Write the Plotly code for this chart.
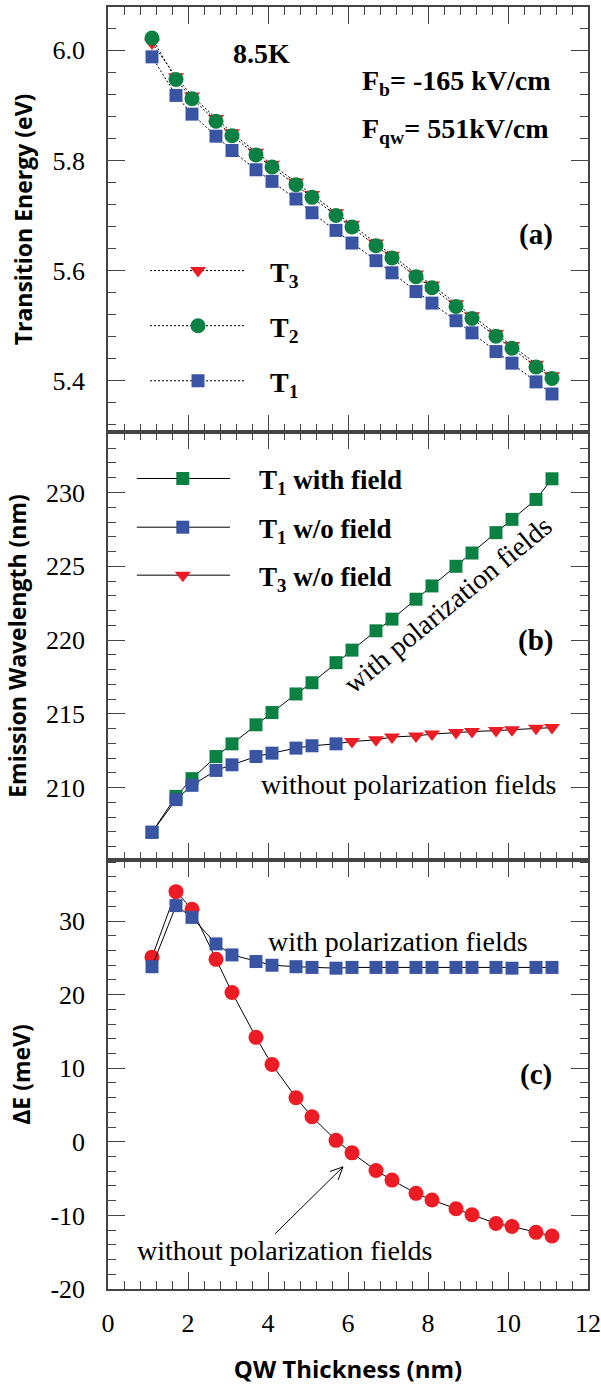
import plotly.graph_objects as go

# ---------------- data ----------------
x_qw = [1.1, 1.7, 2.1, 2.7, 3.1, 3.7, 4.1, 4.7, 5.1, 5.7, 6.1,
        6.7, 7.1, 7.7, 8.1, 8.7, 9.1, 9.7, 10.1, 10.7, 11.1]

# (a) transition energies (eV)
a_T1 = [5.988, 5.918, 5.884, 5.844, 5.818, 5.783, 5.762, 5.730, 5.705, 5.673, 5.650,
        5.618, 5.596, 5.562, 5.541, 5.509, 5.487, 5.453, 5.432, 5.398, 5.376]
a_T2 = [6.022, 5.947, 5.912, 5.871, 5.845, 5.810, 5.788, 5.756, 5.733, 5.700, 5.679,
        5.645, 5.623, 5.589, 5.569, 5.535, 5.513, 5.481, 5.459, 5.425, 5.404]
a_T3 = [6.013, 5.952, 5.917, 5.876, 5.850, 5.815, 5.793, 5.761, 5.738, 5.705, 5.684,
        5.650, 5.628, 5.594, 5.574, 5.540, 5.518, 5.486, 5.464, 5.430, 5.409]

# (b) emission wavelength (nm)
b_T1_field = [206.98, 209.41, 210.61, 212.11, 212.97, 214.26, 215.09, 216.35, 217.11, 218.47, 219.32,
              220.63, 221.42, 222.77, 223.67, 225.00, 225.90, 227.28, 228.18, 229.53, 230.93]
b_x_T1_wo = [1.1, 1.7, 2.1, 2.7, 3.1, 3.7, 4.1, 4.7, 5.1, 5.7]
b_T1_wo = [206.98, 209.19, 210.16, 211.17, 211.55, 212.11, 212.34, 212.68, 212.84, 212.97]
b_x_T3_wo = [6.1, 6.7, 7.1, 7.7, 8.1, 8.7, 9.1, 9.7, 10.1, 10.7, 11.1]
b_T3_wo = [213.13, 213.24, 213.43, 213.51, 213.63, 213.74, 213.80, 213.87, 213.92, 214.03, 214.07]

# (c) Delta E (meV)
c_with = [23.8, 32.1, 30.5, 26.9, 25.4, 24.5, 24.0, 23.8, 23.7, 23.6, 23.7,
          23.7, 23.7, 23.7, 23.7, 23.7, 23.7, 23.7, 23.6, 23.7, 23.7]
c_without = [25.1, 34.0, 31.6, 24.8, 20.3, 14.2, 10.5, 6.0, 3.4, 0.2, -1.5,
             -3.9, -5.2, -7.0, -7.9, -9.1, -9.9, -11.1, -11.5, -12.3, -12.8]

x_ticks = [0, 2, 4, 6, 8, 10, 12]
a_tickvals = [5.4, 5.6, 5.8, 6.0]
a_ticktext = ["5.4", "5.6", "5.8", "6.0"]
b_tickvals = [210, 215, 220, 225, 230]
b_ticktext = ["210", "215", "220", "225", "230"]
c_tickvals = [-20, -10, 0, 10, 20, 30]
c_ticktext = ["-20", "-10", "0", "10", "20", "30"]

BLUE = "#3A54A4"
GREEN = "#0B8043"
RED = "#ED1C24"
FRAME = "#444444"
SERIF = "Liberation Serif"
SANS = "Open Sans"

# ---------------- layout geometry ----------------
W, H = 601, 1385
L, R, T, B = 108, 13, 7, 96
ph = H - T - B


def pfrac(py):
    return (H - B - py) / ph


dom_a = [pfrac(432), 1.0]
dom_b = [pfrac(860), pfrac(432)]
dom_c = [0.0, pfrac(860)]

fig = go.Figure()


def mk(x, y, sym, color, size, xa, ya, line=None):
    return go.Scatter(
        x=x, y=y, xaxis=xa, yaxis=ya, showlegend=False,
        mode="lines+markers" if line else "markers",
        line=line if line else None,
        marker=dict(symbol=sym, color=color, size=size, line=dict(width=0)),
    )


# ---------- panel (a) ----------
dot = dict(color="black", width=1, dash="2px,2px")
fig.add_trace(mk(x_qw, a_T3, "triangle-down", RED, 14, "x", "y", dot))
fig.add_trace(mk(x_qw, a_T1, "square", BLUE, 13, "x", "y", dot))
fig.add_trace(mk(x_qw, a_T2, "circle", GREEN, 15, "x", "y", dot))

# legend keys (a)
leg_a = [("T<sub>3</sub>", 5.6, "triangle-down", RED, 14),
         ("T<sub>2</sub>", 5.5, "circle", GREEN, 15),
         ("T<sub>1</sub>", 5.4, "square", BLUE, 13)]
for txt, yy, sym, col, sz in leg_a:
    fig.add_trace(go.Scatter(x=[1.05, 3.42], y=[yy, yy], xaxis="x", yaxis="y", mode="lines",
                             line=dot, showlegend=False, hoverinfo="skip"))
    fig.add_trace(go.Scatter(x=[2.25], y=[yy], xaxis="x", yaxis="y", mode="markers",
                             marker=dict(symbol=sym, color=col, size=sz, line=dict(width=0)),
                             showlegend=False, hoverinfo="skip"))
    fig.add_annotation(x=4.0, y=yy, xref="x", yref="y", text="<b>" + txt + "</b>",
                       showarrow=False, xanchor="left", yanchor="middle", yshift=-4,
                       font=dict(family=SERIF, size=28, color="black"))

# ---------- panel (b) ----------
solid = dict(color="black", width=1)
fig.add_trace(mk(x_qw, b_T1_field, "square", GREEN, 13, "x2", "y2", solid))
fig.add_trace(go.Scatter(x=b_x_T1_wo + b_x_T3_wo, y=b_T1_wo + b_T3_wo, xaxis="x2", yaxis="y2",
                         mode="lines", line=solid, showlegend=False))
fig.add_trace(mk(b_x_T1_wo, b_T1_wo, "square", BLUE, 13, "x2", "y2"))
fig.add_trace(mk(b_x_T3_wo, b_T3_wo, "triangle-down", RED, 14, "x2", "y2"))

leg_b = [("T<sub>1</sub> with field", 230.95, "square", GREEN, 13),
         ("T<sub>1</sub> w/o field", 227.65, "square", BLUE, 13),
         ("T<sub>3</sub> w/o field", 224.4, "triangle-down", RED, 14)]
for txt, yy, sym, col, sz in leg_b:
    fig.add_trace(go.Scatter(x=[0.72, 3.05], y=[yy, yy], xaxis="x2", yaxis="y2", mode="lines",
                             line=solid, showlegend=False, hoverinfo="skip"))
    fig.add_trace(go.Scatter(x=[1.87], y=[yy], xaxis="x2", yaxis="y2", mode="markers",
                             marker=dict(symbol=sym, color=col, size=sz, line=dict(width=0)),
                             showlegend=False, hoverinfo="skip"))
    fig.add_annotation(x=3.72, y=yy, xref="x2", yref="y2", text="<b>" + txt + "</b>",
                       showarrow=False, xanchor="left", yanchor="middle", yshift=-4,
                       font=dict(family=SERIF, size=27, color="black"))

# ---------- panel (c) ----------
fig.add_trace(mk(x_qw, c_without, "circle", RED, 15, "x3", "y3", solid))
fig.add_trace(mk(x_qw, c_with, "square", BLUE, 13, "x3", "y3", solid))


# ---------- text annotations ----------
def ann(x, y, xr, yr, text, size, bold=False, xanchor="center", angle=0):
    fig.add_annotation(x=x, y=y, xref=xr, yref=yr, text=("<b>%s</b>" % text) if bold else text,
                       showarrow=False, xanchor=xanchor, yanchor="middle", textangle=angle,
                       font=dict(family=SERIF, size=size, color="black"))


ann(3.825, 5.995, "x", "y", "8.5K", 28, True)
ann(6.3, 5.942, "x", "y", "F<sub>b</sub>= -165 kV/cm", 28, True, "left")
ann(6.3, 5.855, "x", "y", "F<sub>qw</sub>= 551kV/cm", 28, True, "left")
ann(10.69, 5.666, "x", "y", "(a)", 29, True)

ann(8.5, 222.4, "x2", "y2", "with polarization fields", 28, False, "center", -39.5)
ann(7.525, 210.2, "x2", "y2", "without polarization fields", 28)
ann(10.69, 220.0, "x2", "y2", "(b)", 29, True)

ann(7.25, 27.2, "x3", "y3", "with polarization fields", 28)
ann(4.425, -14.8, "x3", "y3", "without polarization fields", 28)
ann(10.69, 9.1, "x3", "y3", "(c)", 29, True)

# arrow in (c)
fig.add_shape(type="path", xref="x3", yref="y3", xsizemode="pixel", ysizemode="pixel",
              xanchor=5.875, yanchor=-3.4,
              path="M-68,-67 L0,0 M-4.9,-13.1 L0,0 L-13.2,-4.7",
              line=dict(color="black", width=1))

# ---------------- axes ----------------
tickfont = dict(family="Liberation Serif, Times New Roman, Times, serif", size=26,
                color="black", weight="normal", style="normal")
ytitlefont = dict(family=SANS, size=23, color="black")
xtitlefont = dict(family=SANS, size=24, color="black")


def xax(anchor, show):
    return dict(anchor=anchor, domain=[0, 1], range=[0, 12], tickvals=x_ticks,
                ticktext=[str(v) for v in x_ticks],
                showticklabels=show, ticks="inside", ticklen=17, tickwidth=1.3, tickcolor=FRAME,
                minor=dict(dtick=0.4, ticks="inside", ticklen=8, tickwidth=1.3, tickcolor=FRAME),
                showline=True, linecolor=FRAME, linewidth=1.5, mirror="ticks",
                showgrid=False, zeroline=False, tickfont=dict(tickfont), ticklabelstandoff=10)


def yax(dom, rng, title, anchor, tv, tt, mdt):
    return dict(anchor=anchor, domain=dom, range=rng, tickvals=tv, ticktext=tt,
                ticks="inside", ticklen=17, tickwidth=1.3, tickcolor=FRAME,
                minor=dict(dtick=mdt, tick0=0, ticks="inside", ticklen=8, tickwidth=1.3,
                           tickcolor=FRAME),
                showline=True, linecolor=FRAME, linewidth=1.5, mirror="ticks",
                showgrid=False, zeroline=False, tickfont=dict(tickfont), ticklabelstandoff=16,
                title=dict(text="<b>%s</b>" % title, font=dict(ytitlefont), standoff=13))


ya = yax(dom_a, [5.307, 6.0785], "Transition Energy (eV)", "x", a_tickvals, a_ticktext, 0.04)
yb = yax(dom_b, [205.1, 234.1], "Emission Wavelength (nm)", "x2", b_tickvals, b_ticktext, 1)
yc = yax(dom_c, [-20, 38.3], "ΔE (meV)", "x3", c_tickvals, c_ticktext, 2)

xa = xax("y", False)
xb = xax("y2", False)
xb["matches"] = "x"
xc = xax("y3", True)
xc["matches"] = "x"
xc["title"] = dict(text="<b>QW Thickness (nm)</b>", font=dict(xtitlefont), standoff=26)

fig.update_layout(
    width=W, height=H, autosize=False,
    font=dict(family=SERIF, size=26, color="black"),
    margin=dict(l=L, r=R, t=T, b=B, autoexpand=False),
    paper_bgcolor="white", plot_bgcolor="white",
    xaxis=xa, xaxis2=xb, xaxis3=xc,
    yaxis=ya, yaxis2=yb, yaxis3=yc,
    showlegend=False,
)

fig.write_html("out.html")
